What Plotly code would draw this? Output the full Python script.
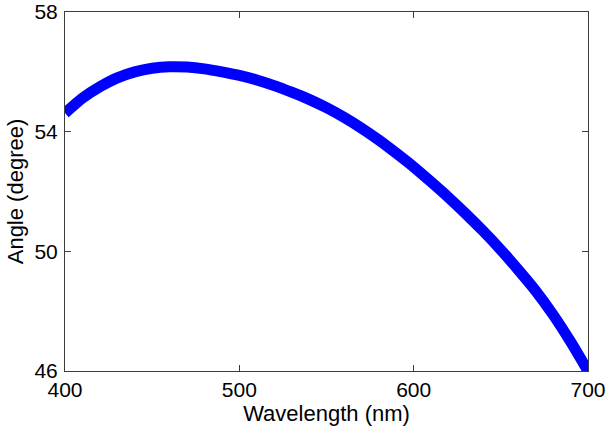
import plotly.graph_objects as go

# Incidence angle versus wavelength
wavelength_nm = [400, 410, 420, 430, 440, 450, 460, 470, 480, 490,
                 500, 510, 520, 530, 540, 550, 560, 570, 580, 590,
                 600, 610, 620, 630, 640, 650, 660, 670, 680, 690, 700]
angle_deg = [54.62, 55.12, 55.50, 55.80, 56.00, 56.12, 56.17, 56.16, 56.10, 56.00,
             55.88, 55.73, 55.54, 55.32, 55.08, 54.80, 54.48, 54.12, 53.72, 53.28,
             52.82, 52.32, 51.80, 51.25, 50.67, 50.05, 49.38, 48.68, 47.88, 46.98, 46.00]

x_ticks = [400, 500, 600, 700]
y_ticks = [46, 50, 54, 58]

FONT = "Arial, Liberation Sans, Helvetica, sans-serif"

fig = go.Figure(
    go.Scatter(
        x=wavelength_nm,
        y=angle_deg,
        mode="lines",
        line=dict(color="#0000FF", width=11, shape="spline", smoothing=0.6),
        hoverinfo="x+y",
    )
)

axis_common = dict(
    showgrid=False,
    zeroline=False,
    showline=True,
    linecolor="#3c3c3c",
    linewidth=1,
    mirror="ticks",
    ticks="inside",
    ticklen=6,
    tickcolor="#3c3c3c",
    automargin=False,
    ticklabeloverflow="allow",
    tickfont=dict(family=FONT, size=21, color="black"),
)

fig.update_xaxes(
    range=[400, 700],
    tickvals=x_ticks,
    ticktext=[str(v) for v in x_ticks],
    title=dict(text="Wavelength (nm)", font=dict(family=FONT, size=22, color="black"), standoff=2),
    **axis_common,
)
fig.update_yaxes(
    range=[46, 58],
    tickvals=y_ticks,
    ticktext=[str(v) for v in y_ticks],
    title=dict(text="Angle (degree)", font=dict(family=FONT, size=22, color="black"), standoff=4),
    ticklabelstandoff=2,
    **axis_common,
)

fig.update_layout(
    width=608,
    height=427,
    margin=dict(l=65, r=20, t=12, b=56),
    paper_bgcolor="white",
    plot_bgcolor="white",
    showlegend=False,
)

fig.write_html("out.html")
